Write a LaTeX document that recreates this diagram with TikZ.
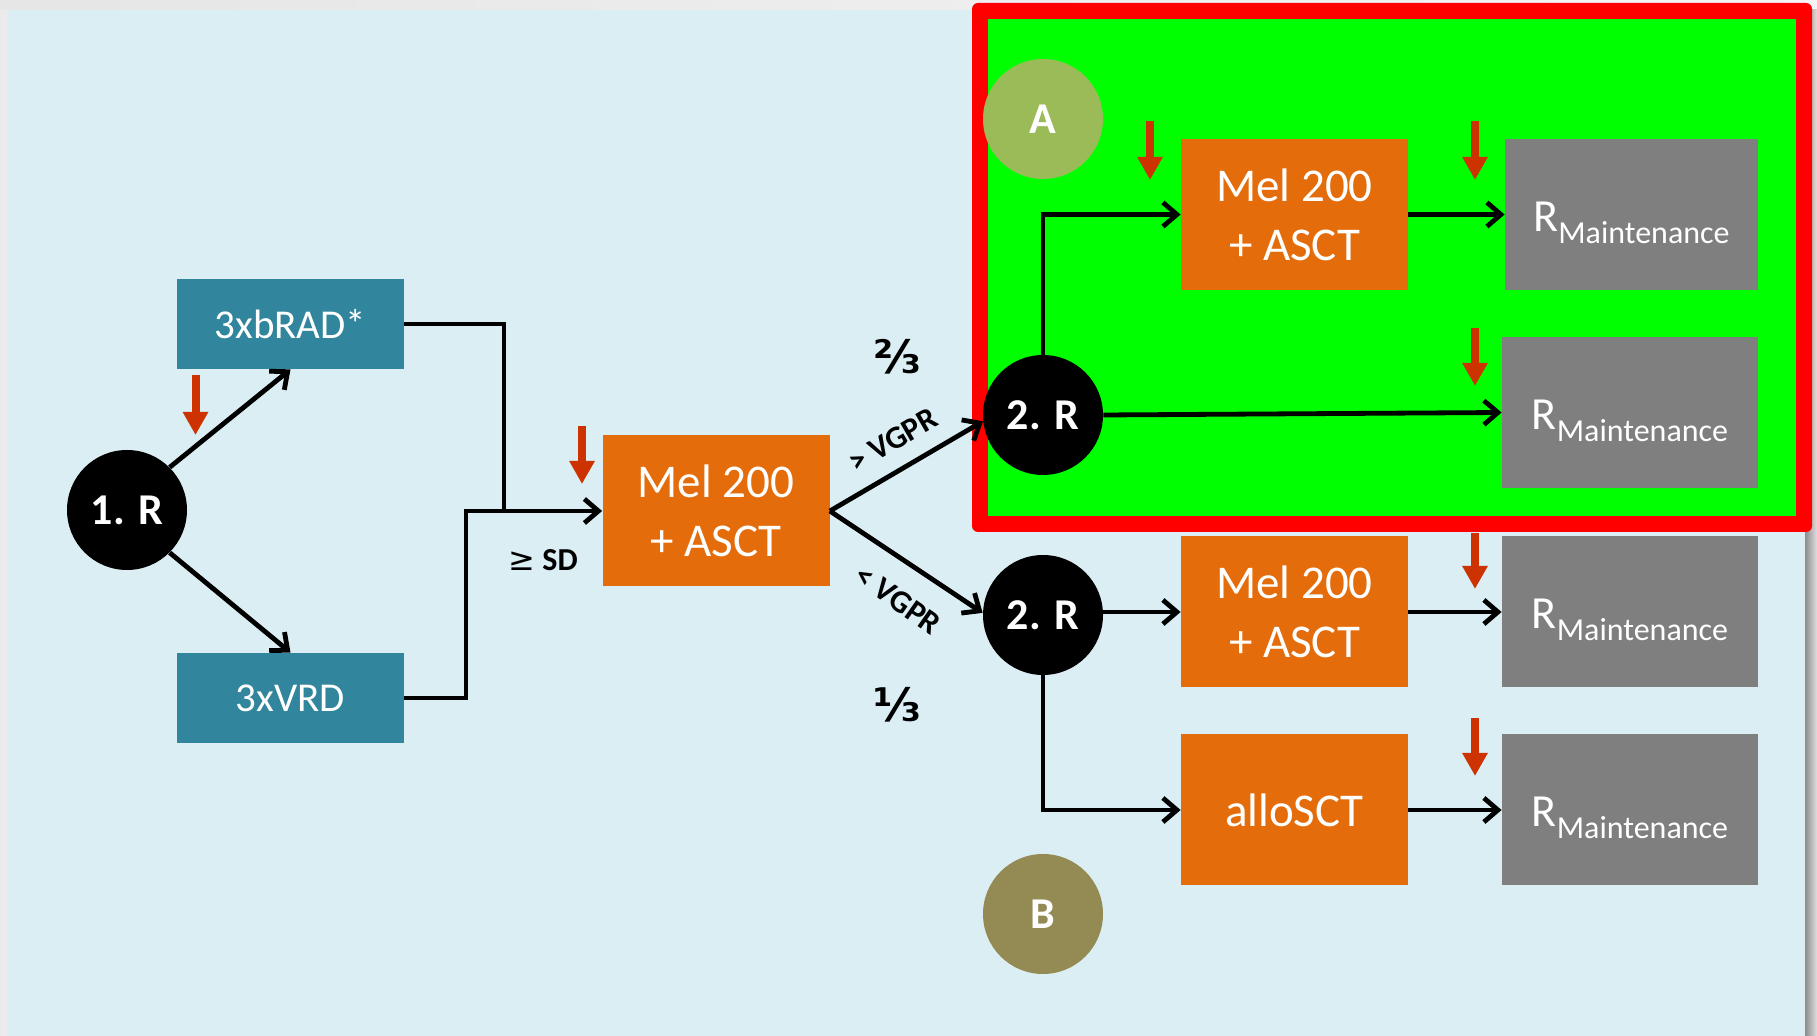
\documentclass[tikz,border=0pt]{standalone}
\usepackage{fontspec}
\setmainfont{Carlito}
\newfontfamily\dejavu{DejaVu Sans}
\usetikzlibrary{arrows.meta}
\definecolor{bgblue}{HTML}{DAEEF3}
\definecolor{tealc}{HTML}{31859C}
\definecolor{orangec}{HTML}{E46C0A}
\definecolor{grayc}{HTML}{7F7F7F}
\definecolor{redarrc}{HTML}{CC3300}
\definecolor{acol}{HTML}{9BBB59}
\definecolor{bcol}{HTML}{948A54}
\definecolor{brightgreen}{HTML}{00FF00}
\definecolor{brightred}{HTML}{FF0000}
\begin{document}
\begin{tikzpicture}[x=0.5pt,y=-0.5pt,
  conn/.style={draw=black,line width=2.4pt,-{Straight Barb[length=7pt,width=12pt]}},
  plainline/.style={draw=black,line width=2.4pt},
  tealbox/.style={rectangle,fill=tealc,text=white,minimum width=113.5pt,minimum height=45pt,inner sep=0pt,font=\fontsize{20.5}{24}\selectfont},
  orbox/.style={rectangle,fill=orangec,text=white,minimum width=113.5pt,minimum height=75.5pt,inner sep=0pt,align=center,font=\fontsize{23.5}{29.5}\selectfont},
  graybox/.style={rectangle,fill=grayc,text=white,minimum width=128pt,minimum height=75.5pt,inner sep=0pt,text height=20pt,text depth=3pt},
  blackcirc/.style={circle,fill=black,text=white,minimum size=60pt,inner sep=0pt,font=\fontsize{22}{22}\selectfont\bfseries},
  lettercirc/.style={circle,text=white,minimum size=60pt,inner sep=0pt,font=\fontsize{22}{22}\selectfont\bfseries},
  redarr/.style={draw=redarrc,line width=4pt,-{Triangle[length=11.5pt,width=12pt]}},
  lbl/.style={inner sep=0pt,font=\fontsize{16}{16}\selectfont\bfseries},
  fraclbl/.style={inner sep=0pt,font=\fontsize{23}{23}\selectfont\dejavu\bfseries}
]
\newcommand{\rmaint}{{\fontsize{23}{23}\selectfont R}{\fontsize{16}{16}\selectfont\raisebox{-5.8pt}{Maintenance}}}
\useasboundingbox (0,0) rectangle (1817,1036);
% background
\fill[black!8] (0,0) rectangle (1817,1036);
\shade[left color=black!10,right color=black!4] (0,0) rectangle (1817,10);
\fill[bgblue] (7,10) rectangle (1805,1036);
\shade[left color=black!45,right color=black!12] (1805,10) rectangle (1817,1036);
% red framed green area
\fill[brightred,rounded corners=3pt] (972,3) rectangle (1812,532);
\fill[brightgreen] (988,19) rectangle (1796,516);

% nodes
\node[blackcirc] (r1) at (127,510) {1. R};
\node[tealbox] (brad) at (290.5,324) {3xbRAD*};
\node[tealbox] (vrd) at (290.5,698) {3xVRD};
\node[orbox] (mel) at (716,511) {Mel 200\\+ ASCT};
\node[blackcirc] (r2u) at (1043,415) {2. R};
\node[blackcirc] (r2l) at (1043,615) {2. R};
\node[lettercirc,fill=acol] (ca) at (1043,119) {A};
\node[lettercirc,fill=bcol] (cb) at (1043,914) {B};
\node[orbox] (melA) at (1294.5,214.5) {Mel 200\\+ ASCT};
\node[graybox,minimum width=126.5pt] (mA1) at (1631.5,214.5) {\rmaint};
\node[graybox] (mA2) at (1630,412.5) {\rmaint};
\node[orbox] (melB) at (1294.5,612) {Mel 200\\+ ASCT};
\node[graybox] (mB1) at (1630,612) {\rmaint};
\node[orbox] (allo) at (1294.5,810) {alloSCT};
\node[graybox] (mB2) at (1630,810) {\rmaint};

% junction coordinates
\coordinate (j1) at (504,511);
\coordinate (j2) at (466,511);

% connectors
\draw[conn] (r1.45) -- (brad.south);
\draw[conn] (r1.-45) -- (vrd.north);
\draw[plainline] (brad.east) -| (j1);
\draw[conn] (vrd.east) -| (j2) -- (mel.west);
\draw[conn] (mel.east) -- (r2u.186);
\draw[conn] (mel.east) -- (r2l.178);
\draw[conn] (r2u.north) |- (melA.west);
\draw[conn] (r2u.east) -- (mA2.west);
\draw[conn] (melA.east) -- (mA1.west);
\draw[conn] (melB.west -| r2l.east) -- (melB.west);
\draw[conn] (r2l.south) |- (allo.west);
\draw[conn] (melB.east) -- (mB1.west);
\draw[conn] (allo.east) -- (mB2.west);

% labels
\node[lbl,rotate=30] (gtv) at (893,440) {> VGPR};
\node[lbl,rotate=-35] (ltv) at (898,600) {< VGPR};
\node[fraclbl] (f23) at (897,357) {⅔};
\node[fraclbl] (f13) at (897,705) {⅓};
\node[lbl] (sd) at (543,560) {{\dejavu\mdseries ≥} SD};

% red marker arrows
\coordinate (ra1s) at (195.5,375); \coordinate (ra1e) at (195.5,435);
\coordinate (ra2s) at (582,426);   \coordinate (ra2e) at (582,484);
\coordinate (ra3s) at (1150,121);  \coordinate (ra3e) at (1150,180);
\coordinate (ra4s) at (1475,121);  \coordinate (ra4e) at (1475,180);
\coordinate (ra5s) at (1475,328);  \coordinate (ra5e) at (1475,386);
\coordinate (ra6s) at (1475,533);  \coordinate (ra6e) at (1475,589);
\coordinate (ra7s) at (1475,718);  \coordinate (ra7e) at (1475,776);
\foreach \i in {1,...,7} { \draw[redarr] (ra\i s) -- (ra\i e); }
\end{tikzpicture}
\end{document}
